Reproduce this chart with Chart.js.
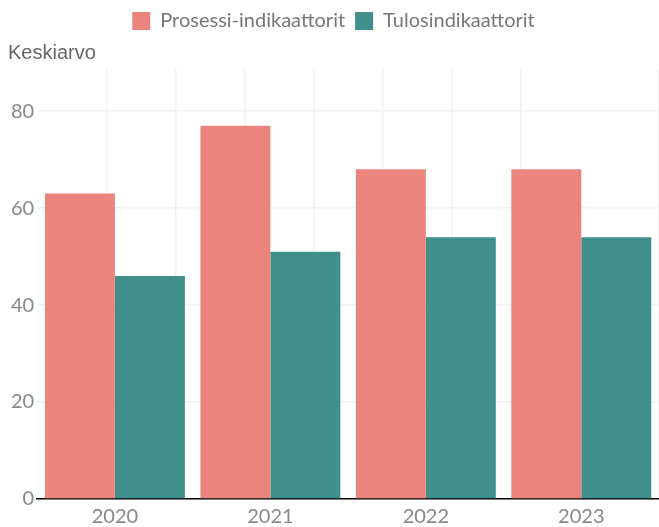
<!DOCTYPE html>
<html>
<head>
<meta charset="utf-8">
<script src="https://cdn.jsdelivr.net/npm/chart.js@4"></script>
<style>
  html, body { margin: 0; padding: 0; background: #fff; }
  #wrap { width: 659px; height: 527px; }
</style>
</head>
<body>
<div id="wrap"><canvas id="myChart"></canvas></div>
<script>
var years = ['2020', '2021', '2022', '2023'];
var prosessi = [63, 77, 68, 68];
var tulos = [46, 51, 54, 54];
var yTicks = [0, 20, 40, 60, 80];

var tickFont = { family: 'Lato', size: 20 };

var dataObj = {
    labels: years,
    datasets: [
        {
            label: 'Prosessi-indikaattorit',
            backgroundColor: '#eb847d',
            data: prosessi,
            xAxisID: 'x',
            barPercentage: 1.0,
            categoryPercentage: 0.9
        }, {
            label: 'Tulosindikaattorit',
            backgroundColor: '#408f8a',
            data: tulos,
            xAxisID: 'x',
            barPercentage: 1.0,
            categoryPercentage: 0.9
        }
    ]
};

var optionsObj = {
    responsive: true,
    maintainAspectRatio: false,
    animation: false,
    layout: { padding: { left: 8, right: 0, top: 1, bottom: 0 } },
    plugins: {
        legend: {
            position: 'top',
            labels: {
                boxWidth: 18,
                boxHeight: 18,
                color: '#777',
                font: { family: 'Lato', size: 20, lineHeight: 1.0 },
                padding: 10
            }
        },
        title: {
            display: true,
            text: 'Keskiarvo',
            align: 'start',
            weight: 500,
            color: '#666',
            font: { family: 'Liberation Sans', size: 20, weight: 'normal' },
            padding: { top: 0, bottom: 4 }
        },
        tooltip: { enabled: false }
    },
    scales: {
        x: {
            type: 'category',
            grid: { display: false },
            border: { display: true, color: '#000', width: 1.5 },
            ticks: { color: '#888', font: { family: 'Lato', size: 20, lineHeight: 1.0 }, padding: 0 }
        },
        xg: {
            type: 'linear',
            position: 'bottom',
            min: -0.5,
            max: 3.5,
            display: true,
            ticks: { display: false, stepSize: 0.5 },
            border: { display: false },
            grid: {
                drawTicks: false,
                lineWidth: 1.5,
                color: function (c) {
                    if (c.tick && (c.tick.value === -0.5 || c.tick.value === 3.5)) return 'rgba(0,0,0,0)';
                    return '#f2f2f2';
                }
            }
        },
        y: {
            min: 0,
            max: 88.7,
            border: { display: false },
            grid: { color: '#f2f2f2', lineWidth: 1.5, drawTicks: false },
            afterBuildTicks: function (axis) {
                axis.ticks = yTicks.map(function (v) { return { value: v }; });
            },
            ticks: { color: '#888', font: tickFont, padding: 3 }
        }
    }
};

new Chart(document.getElementById('myChart'), {
    type: 'bar',
    data: dataObj,
    options: optionsObj
});
</script>
</body>
</html>
